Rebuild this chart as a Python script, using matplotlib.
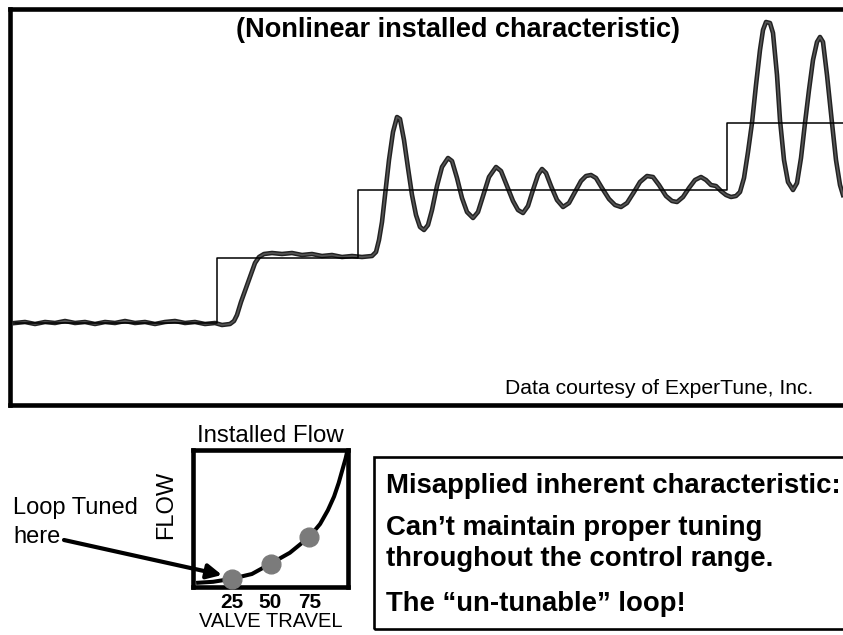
import matplotlib
matplotlib.use('Agg')
import matplotlib.pyplot as plt
from matplotlib.patches import Rectangle

# setpoint steps (time, flow level)
sp_time = [5, 207, 348, 717, 840]
sp_level = [82, 147, 215, 282, 282]

pv_time = [5, 15, 25, 35, 45, 55, 65, 75, 85, 95, 105, 115, 125, 135, 145, 155, 165, 175, 185, 195,
           205, 212, 220, 224, 227, 231, 236, 241, 245, 249, 254, 262, 272, 282, 292, 302, 312, 322,
           332, 342, 352, 362, 366, 369, 372, 375, 379, 383, 387, 390, 394, 398, 402, 406, 410, 414,
           418, 422, 427, 432, 438, 442, 447, 452, 457, 463, 468, 473, 479, 486, 491, 497, 503, 508,
           513, 518, 523, 528, 532, 536, 541, 547, 553, 559, 565, 571, 576, 581, 586, 592, 599, 605,
           611, 617, 624, 630, 637, 643, 649, 656, 662, 667, 673, 679, 685, 691, 696, 701, 706, 711,
           716, 721, 726, 730, 734, 738, 742, 746, 750, 753, 756, 760, 763, 767, 770, 774, 778, 783,
           787, 791, 795, 799, 803, 807, 810, 813, 817, 822, 826, 830, 833]
pv_level = [82, 83, 81, 83, 82, 84, 82, 83, 81, 83, 82, 84, 82, 83, 81, 83, 84, 82, 83, 81,
            82, 80, 81, 84, 90, 103, 117, 131, 142, 148, 151, 152, 151, 152, 150, 151, 149, 150,
            148, 149, 148, 149, 153, 165, 183, 210, 245, 273, 288, 286, 265, 237, 210, 190, 178, 175,
            180, 195, 219, 238, 247, 244, 227, 207, 193, 187, 193, 209, 228, 238, 234, 219, 204, 195,
            192, 199, 215, 230, 236, 232, 219, 205, 198, 202, 213, 224, 229, 230, 227, 217, 206, 200,
            198, 202, 213, 223, 229, 228, 220, 209, 204, 203, 208, 217, 225, 228, 225, 220, 219, 214,
            210, 208, 209, 213, 227, 253, 282, 320, 355, 375, 383, 382, 372, 330, 285, 245, 223, 215,
            222, 247, 282, 315, 345, 363, 368, 363, 330, 282, 245, 220, 210]

# installed characteristic (valve travel %, flow %)
travel = [2, 13, 25, 38, 50, 62.5, 75, 82, 87, 91, 94, 96.5, 98.5, 99.5]
flow = [3, 3.8, 6, 9.5, 17, 25, 36.5, 46, 56, 66, 76, 86, 94, 99]
tuned_travel = [25, 50, 75]
tuned_flow = [6, 17, 36.5]

title = "(Nonlinear installed characteristic)"
credit = "Data courtesy of ExperTune, Inc."
notes = ["Misapplied inherent characteristic:",
         "Can\u2019t maintain proper tuning",
         "throughout the control range.",
         "The \u201cun-tunable\u201d loop!"]

W, H = 843, 635


def fx(x):
    return x / W


def fy(y):
    return 1 - y / H


plt.rcParams['font.family'] = ['Liberation Sans', 'DejaVu Sans']
fig = plt.figure(figsize=(W / 100, H / 100), dpi=100)

# trend chart
ax = fig.add_axes([fx(10), fy(405), (850 - 10) / W, (405 - 8.5) / H])
ax.plot(pv_time, pv_level, color='#222222', lw=3.3, solid_joinstyle='round', zorder=2)
ax.plot(pv_time, pv_level, color='#555555', lw=1.2, zorder=2)
ax.step(sp_time, sp_level, where='post', color='black', lw=1.1, zorder=3)
ax.set_xlim(0, 840)
ax.set_ylim(0, 396.5)
ax.set_xticks([])
ax.set_yticks([])
for s in ax.spines.values():
    s.set_linewidth(3.3)

fig.text(fx(458), fy(30), title, ha='center', va='center', fontsize=19.5, fontweight='bold')
fig.text(fx(813), fy(388), credit, ha='right', va='center', fontsize=15.2)

# installed flow sketch
ax2 = fig.add_axes([fx(193), fy(587), 155 / W, 137 / H])
ax2.plot(travel, flow, color='black', lw=2.9, clip_on=False, zorder=3, solid_capstyle='butt')
ax2.plot(tuned_travel, tuned_flow, 'o', color='#7b7b7b', ms=13.5, clip_on=False, zorder=4)
ax2.set_xlim(0, 100)
ax2.set_ylim(0, 100)
ax2.set_xticks(tuned_travel)
ax2.set_xticklabels([str(v) for v in tuned_travel], fontsize=15, fontweight='bold')
ax2.tick_params(axis='x', length=0, pad=4)
ax2.set_yticks([])
ax2.set_xlabel("VALVE TRAVEL", fontsize=14.5, labelpad=0.5)
ax2.set_ylabel("FLOW", fontsize=17)
ax2.yaxis.set_label_coords(-0.1, 0.6)
ax2.set_title("Installed Flow", fontsize=17.3, pad=6)
for s in ax2.spines.values():
    s.set_linewidth(3.3)

fig.text(fx(13), fy(508), "Loop Tuned", ha='left', va='center', fontsize=17)
fig.text(fx(13), fy(537), "here", ha='left', va='center', fontsize=17)
ax2.annotate('', xy=(222, H - 575), xycoords='figure pixels',
             xytext=(64, H - 540), textcoords='figure pixels',
             arrowprops=dict(arrowstyle='-|>', color='black', lw=3, mutation_scale=22,
                             shrinkA=0, shrinkB=0), zorder=5)

# note box
box = Rectangle((fx(374), fy(629)), (900 - 374) / W, (629 - 457) / H, transform=fig.transFigure,
                fill=False, ec='black', lw=1.9, clip_on=False)
fig.add_artist(box)
for txt, yy in zip(notes, [486, 528, 559, 604]):
    fig.text(fx(386), fy(yy), txt, ha='left', va='center', fontsize=19.8, fontweight='bold')

fig.savefig('out.png', dpi=100)
